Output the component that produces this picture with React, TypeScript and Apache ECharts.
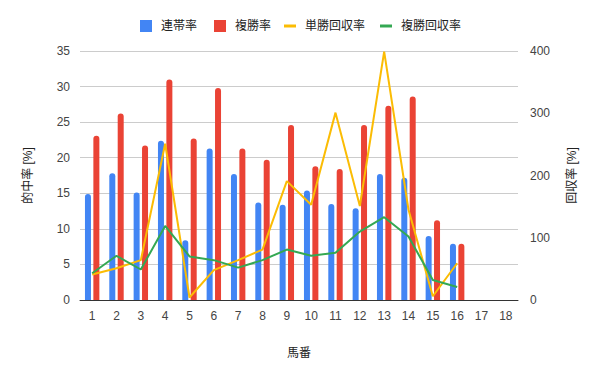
import React, { useEffect, useRef } from "react";
import * as echarts from "echarts";

const categories = ["1","2","3","4","5","6","7","8","9","10","11","12","13","14","15","16","17","18"];
const rentaiRate = [14.9, 17.8, 15.1, 22.4, 8.4, 21.3, 17.7, 13.7, 13.4, 15.4, 13.5, 12.9, 17.7, 17.2, 9.0, 7.9, null, null];
const fukushoRate = [23.1, 26.2, 21.7, 31.0, 22.7, 29.8, 21.3, 19.7, 24.6, 18.8, 18.4, 24.6, 27.3, 28.6, 11.2, 7.9, null, null];
const tanshoReturn = [41, 51, 64, 251, 4, 48, 64, 81, 191, 153, 301, 151, 399, 145, 6, 59, null, null];
const fukushoReturn = [43, 71, 49, 119, 70, 64, 52, 64, 81, 71, 76, 110, 133, 102, 32, 21, null, null];

const FONT = "'Liberation Sans', Arial, 'Noto Sans CJK JP', sans-serif";

export default function App() {
  const ref = useRef<HTMLDivElement>(null);
  useEffect(() => {
    if (!ref.current) return;
    const chart = echarts.init(ref.current, null, { renderer: "svg" });
    chart.setOption({
      animation: false,
      textStyle: { fontFamily: FONT },
      legend: [
        {
          left: 140,
          top: 20,
          padding: 0,
          itemWidth: 12,
          itemHeight: 12,
          itemGap: 17,
          textStyle: { fontSize: 12, color: "#222", padding: [0, 0, 0, 4] },
          data: [
            { name: "連帯率", icon: "rect" },
            { name: "複勝率", icon: "rect" },
          ],
        },
        {
          left: 284,
          top: 20,
          padding: 0,
          itemWidth: 12,
          itemHeight: 12,
          itemGap: 15,
          textStyle: { fontSize: 12, color: "#222", padding: [0, 0, 0, 4] },
          data: [
            { name: "単勝回収率", icon: "path://M0,9 H24 V15 H0 Z" },
            { name: "複勝回収率", icon: "path://M0,9 H24 V15 H0 Z" },
          ],
        },
      ],
      grid: { left: 80, right: 82, top: 51, bottom: 71 },
      xAxis: {
        type: "category",
        data: categories,
        name: "馬番",
        nameLocation: "middle",
        nameGap: 47,
        nameTextStyle: { fontSize: 12, color: "#222" },
        axisLine: { lineStyle: { color: "#333" } },
        axisTick: { show: false },
        axisLabel: { color: "#444", fontSize: 12, margin: 10 },
      },
      yAxis: [
        {
          type: "value",
          min: 0,
          max: 35,
          interval: 5,
          name: "的中率 [%]",
          nameLocation: "middle",
          nameGap: 46,
          nameRotate: 90,
          nameTextStyle: { fontSize: 12, color: "#222" },
          axisLabel: { color: "#444", fontSize: 12, margin: 10 },
          splitLine: { lineStyle: { color: "#ccc" } },
          axisLine: { show: false },
          axisTick: { show: false },
        },
        {
          type: "value",
          min: 0,
          max: 400,
          interval: 100,
          name: "回収率 [%]",
          nameLocation: "middle",
          nameGap: 48,
          nameRotate: 90,
          nameTextStyle: { fontSize: 12, color: "#222" },
          axisLabel: { color: "#444", fontSize: 12, margin: 12 },
          splitLine: { show: false },
          axisLine: { show: false },
          axisTick: { show: false },
        },
      ],
      series: [
        {
          name: "連帯率",
          type: "bar",
          data: rentaiRate,
          itemStyle: { color: "#4285F4", borderRadius: [3, 3, 0, 0] },
          barWidth: 6,
          barGap: "40%",
        },
        {
          name: "複勝率",
          type: "bar",
          data: fukushoRate,
          itemStyle: { color: "#EA4335", borderRadius: [3, 3, 0, 0] },
          barWidth: 6,
          barGap: "40%",
        },
        {
          name: "単勝回収率",
          type: "line",
          yAxisIndex: 1,
          data: tanshoReturn,
          symbol: "none",
          lineStyle: { color: "#FBBC04", width: 2 },
          itemStyle: { color: "#FBBC04" },
        },
        {
          name: "複勝回収率",
          type: "line",
          yAxisIndex: 1,
          data: fukushoReturn,
          symbol: "none",
          lineStyle: { color: "#34A853", width: 2 },
          itemStyle: { color: "#34A853" },
        },
      ],
    });
    return () => chart.dispose();
  }, []);
  return <div ref={ref} style={{ width: 600, height: 371, margin: -8 }} />;
}
